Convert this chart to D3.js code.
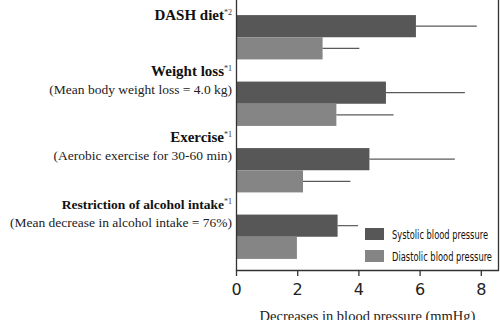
<!DOCTYPE html>
<html>
<head>
<meta charset="utf-8">
<script src="https://cdn.jsdelivr.net/npm/d3@7"></script>
<style>
  html, body { margin: 0; padding: 0; background: #fff; }
  svg { display: block; }
</style>
</head>
<body>
<svg id="chart" width="500" height="320"></svg>
<script>
// values
var categories = ["DASH diet", "Weight loss", "Exercise", "Restriction of alcohol intake"];
var footnotes = ["*2", "*1", "*1", "*1"];
var subtitles = ["", "(Mean body weight loss = 4.0 kg)", "(Aerobic exercise for 30-60 min)", "(Mean decrease in alcohol intake = 76%)"];
var systolic = [5.88, 4.9, 4.36, 3.32];
var systolicUpper = [7.87, 7.48, 7.15, 3.99];
var diastolic = [2.83, 3.28, 2.19, 1.99];
var diastolicUpper = [4.03, 5.15, 3.74, null];
var seriesNames = ["Systolic blood pressure", "Diastolic blood pressure"];
var seriesColors = ["#575757", "#858585"];
var xTicks = [0, 2, 4, 6, 8];
var xTitle = "Decreases in blood pressure (mmHg)";

var svg = d3.select("#chart");
var plotLeft = 236, plotRight = 499, plotTop = 4, plotBottom = 270;

var x = d3.scaleLinear().domain([0, 8]).range([plotLeft, 480.8]);
var y = d3.scaleBand().domain(categories).range([plotTop, plotBottom])
    .paddingInner(1 / 3).paddingOuter(1 / 6);
var bh = y.bandwidth() / 2;

var serif = "'Liberation Serif', 'DejaVu Serif', serif";

// bars
var flat = [];
categories.forEach(function (c, i) {
    flat.push({ cat: c, s: 0, v: systolic[i], hi: systolicUpper[i] });
    flat.push({ cat: c, s: 1, v: diastolic[i], hi: diastolicUpper[i] });
});

svg.append("g").selectAll("rect").data(flat).enter().append("rect")
    .attr("x", x(0))
    .attr("y", function (d) { return y(d.cat) + d.s * bh; })
    .attr("width", function (d) { return x(d.v) - x(0); })
    .attr("height", bh)
    .attr("fill", function (d) { return seriesColors[d.s]; });

// error whiskers
svg.append("g").selectAll("line").data(flat.filter(function (d) { return d.hi != null; }))
    .enter().append("line")
    .attr("x1", function (d) { return x(d.v); })
    .attr("x2", function (d) { return x(d.hi); })
    .attr("y1", function (d) { return y(d.cat) + d.s * bh + bh / 2; })
    .attr("y2", function (d) { return y(d.cat) + d.s * bh + bh / 2; })
    .attr("stroke", "#5a5a5a")
    .attr("stroke-width", 1.2);

// frame: left, right, bottom
svg.append("path")
    .attr("d", "M" + (plotLeft + 0.5) + ",0V" + (plotBottom + 0.5) + "H" + (plotRight - 0.5) + "V0")
    .attr("fill", "none")
    .attr("stroke", "#333")
    .attr("stroke-width", 1.3);

// x axis
var xAxis = d3.axisBottom(x).tickValues(xTicks).tickSize(6).tickPadding(8).tickFormat(d3.format("d"));
var gx = svg.append("g").attr("transform", "translate(0," + plotBottom + ")").call(xAxis);
gx.select(".domain").remove();
gx.selectAll(".tick line").attr("stroke", "#333").attr("stroke-width", 1.3);
gx.selectAll(".tick text")
    .attr("fill", "#222")
    .style("font-family", "'DejaVu Sans', sans-serif")
    .style("font-size", "16px");

svg.append("text")
    .attr("x", (plotLeft + plotRight) / 2)
    .attr("y", 321)
    .attr("text-anchor", "middle")
    .attr("fill", "#222")
    .style("font-family", serif)
    .style("font-size", "14.5px")
    .text(xTitle);

// category labels
var lab = svg.append("g").attr("fill", "#111");
categories.forEach(function (c, i) {
    var y0 = y(c);
    var tb = subtitles[i] ? y0 - 6 : y0 + 5;
    var t = lab.append("text")
        .attr("x", 232)
        .attr("y", tb)
        .attr("text-anchor", "end")
        .style("font-family", serif);
    t.append("tspan").style("font-weight", "bold").style("font-size", c.length > 20 ? "13.5px" : "15px").text(c);
    t.append("tspan").style("font-size", "8px").attr("fill", "#333").attr("dy", -5).text(footnotes[i]);
    if (subtitles[i]) {
        lab.append("text")
            .attr("x", 232)
            .attr("y", y0 + 12)
            .attr("text-anchor", "end")
            .attr("fill", "#222")
            .style("font-family", serif)
            .style("font-size", "13.5px")
            .text(subtitles[i]);
    }
});

// legend
var lg = svg.append("g").attr("transform", "translate(365,228)");
seriesNames.forEach(function (n, i) {
    lg.append("rect").attr("x", 0).attr("y", i * 22).attr("width", 19).attr("height", 12)
        .attr("fill", seriesColors[i]);
    lg.append("text").attr("x", 27).attr("y", i * 22 + 10.5)
        .attr("fill", "#111")
        .attr("textLength", i === 0 ? 96 : 100)
        .attr("lengthAdjust", "spacingAndGlyphs")
        .style("font-family", "'Liberation Sans Narrow', 'DejaVu Sans Condensed', sans-serif")
        .style("font-stretch", "condensed")
        .style("font-size", "11.5px")
        .text(n);
});
</script>
</body>
</html>
